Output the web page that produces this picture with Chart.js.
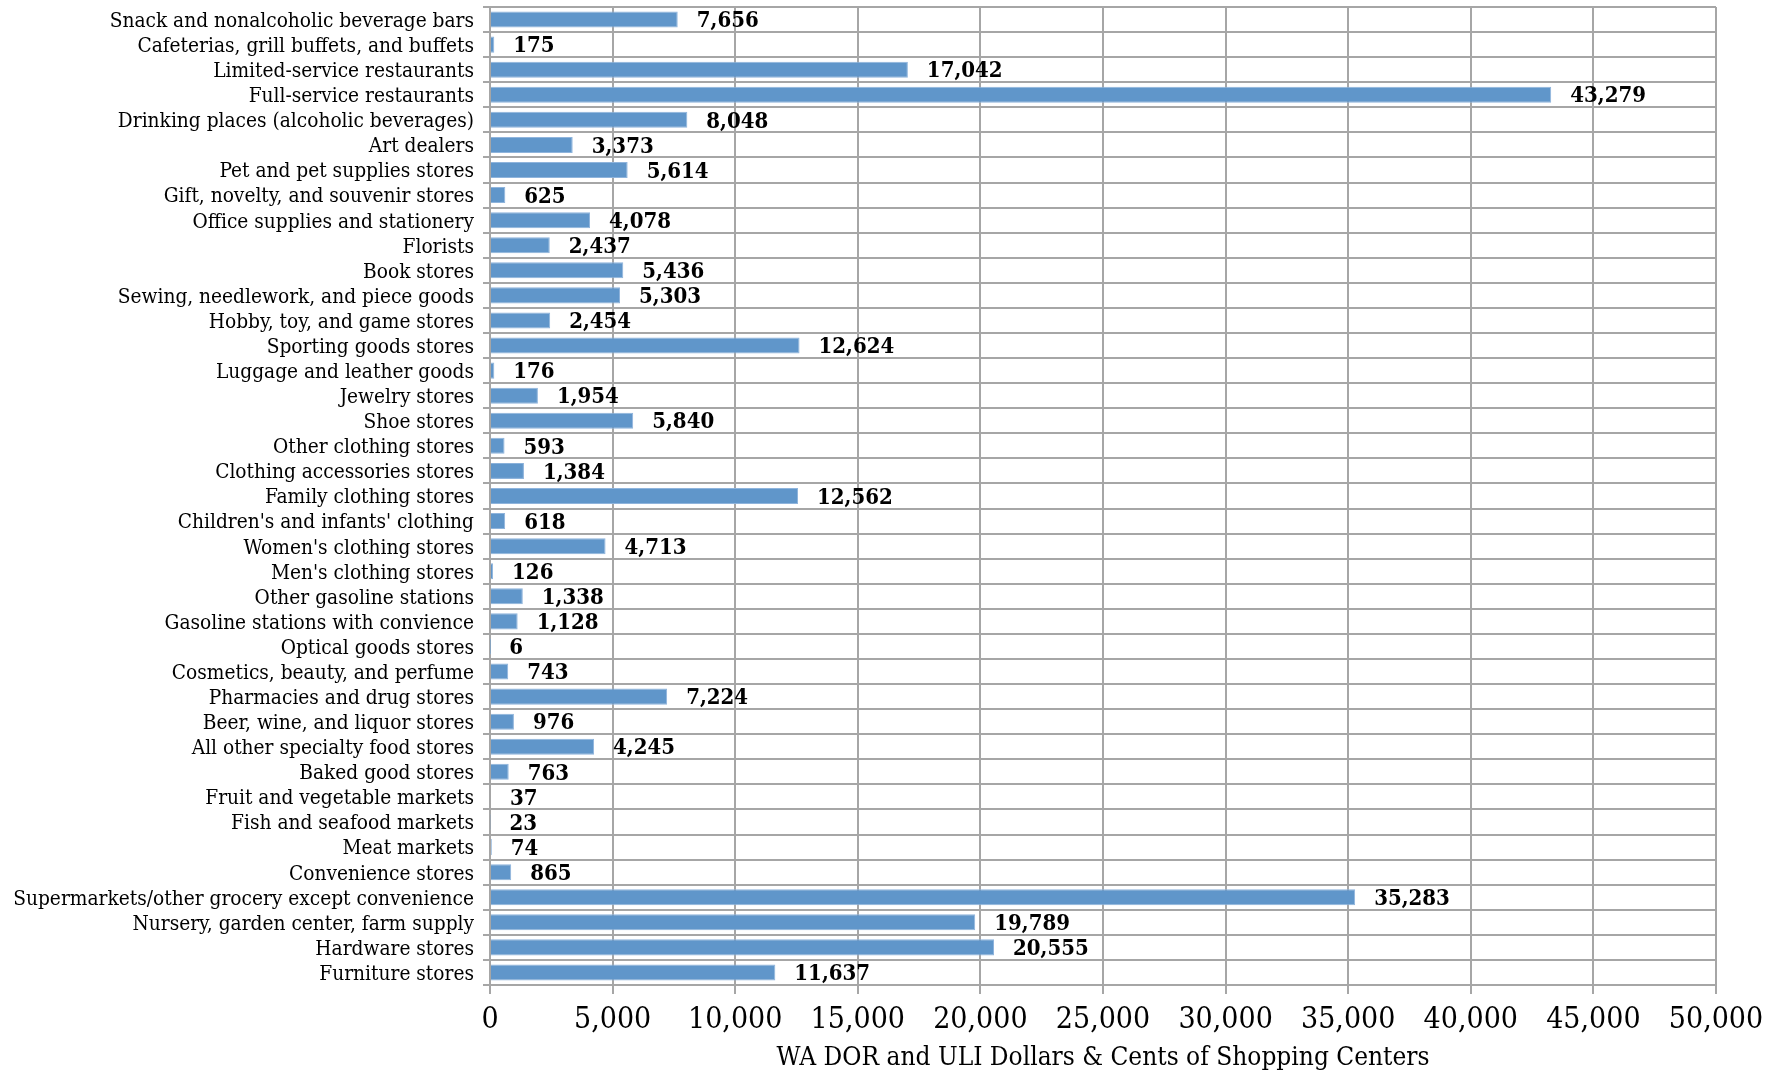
<!DOCTYPE html>
<html>
<head>
<meta charset="utf-8">
<script src="https://cdn.jsdelivr.net/npm/chart.js@4.4.1/dist/chart.umd.min.js"></script>
<style>
  html, body { margin: 0; padding: 0; background: #fff; }
  #wrap { width: 1775px; height: 1071px; }
</style>
</head>
<body>
<div id="wrap"><canvas id="chart" width="1775" height="1071"></canvas></div>
<script>
// ===== data =====
const categories = [
    'Snack and nonalcoholic beverage bars',
    'Cafeterias, grill buffets, and buffets',
    'Limited-service restaurants',
    'Full-service restaurants',
    'Drinking places (alcoholic beverages)',
    'Art dealers',
    'Pet and pet supplies stores',
    'Gift, novelty, and souvenir stores',
    'Office supplies and stationery',
    'Florists',
    'Book stores',
    'Sewing, needlework, and piece goods',
    'Hobby, toy, and game stores',
    'Sporting goods stores',
    'Luggage and leather goods',
    'Jewelry stores',
    'Shoe stores',
    'Other clothing stores',
    'Clothing accessories stores',
    'Family clothing stores',
    "Children's and infants' clothing",
    "Women's clothing stores",
    "Men's clothing stores",
    'Other gasoline stations',
    'Gasoline stations with convience',
    'Optical goods stores',
    'Cosmetics, beauty, and perfume',
    'Pharmacies and drug stores',
    'Beer, wine, and liquor stores',
    'All other specialty food stores',
    'Baked good stores',
    'Fruit and vegetable markets',
    'Fish and seafood markets',
    'Meat markets',
    'Convenience stores',
    'Supermarkets/other grocery except convenience',
    'Nursery, garden center, farm supply',
    'Hardware stores',
    'Furniture stores'
];

const salesValues = [
    7656, 175, 17042, 43279, 8048, 3373, 5614, 625, 4078, 2437,
    5436, 5303, 2454, 12624, 176, 1954, 5840, 593, 1384, 12562,
    618, 4713, 126, 1338, 1128, 6, 743, 7224, 976, 4245,
    763, 37, 23, 74, 865, 35283, 19789, 20555, 11637
];

const xAxisMin = 0;
const xAxisMax = 50000;
const xAxisStep = 5000;
const xAxisTitle = 'WA DOR and ULI Dollars & Cents of Shopping Centers';

const SERIF = '"DejaVu Serif Condensed", "DejaVu Serif", serif';
const fmt = v => v.toLocaleString('en-US');

// draw value labels to the right of each bar
const valueLabels = {
    id: 'valueLabels',
    afterDatasetsDraw(chart) {
        const ctx = chart.ctx;
        const meta = chart.getDatasetMeta(0);
        ctx.save();
        ctx.font = 'bold 22px ' + SERIF;
        ctx.fillStyle = '#000';
        ctx.textAlign = 'left';
        ctx.textBaseline = 'middle';
        meta.data.forEach((bar, i) => {
            ctx.fillText(fmt(salesValues[i]), bar.x + 19, bar.y + 2);
        });
        ctx.restore();
    }
};

new Chart(document.getElementById('chart'), {
    type: 'bar',
    data: {
        labels: categories,
        datasets: [{
            data: salesValues,
            backgroundColor: '#6096ca',
            borderColor: '#8fb4dc',
            borderWidth: 1,
            barPercentage: 0.64,
            categoryPercentage: 1.0
        }]
    },
    options: {
        indexAxis: 'y',
        responsive: false,
        animation: false,
        layout: { padding: { top: 7, right: 59, bottom: 0, left: 0 } },
        plugins: {
            legend: { display: false },
            tooltip: { enabled: false }
        },
        scales: {
            x: {
                min: xAxisMin,
                max: xAxisMax,
                ticks: {
                    stepSize: xAxisStep,
                    color: '#000',
                    padding: 8,
                    font: { family: SERIF, size: 30 },
                    callback: v => fmt(v)
                },
                grid: { color: '#a6a6a6', lineWidth: 2, tickLength: 9 },
                border: { color: '#a6a6a6', width: 2 },
                title: {
                    display: true,
                    text: xAxisTitle,
                    color: '#000',
                    font: { family: SERIF, size: 26 },
                    padding: { top: 4, bottom: -3 }
                },
                afterFit(scale) { scale.height = 86; }
            },
            y: {
                ticks: {
                    color: '#000',
                    padding: 9,
                    labelOffset: 2,
                    autoSkip: false,
                    font: { family: SERIF, size: 20.7 }
                },
                grid: { color: '#a6a6a6', lineWidth: 2, tickLength: 7, offset: true },
                border: { color: '#a6a6a6', width: 2 },
                afterFit(scale) {
                    // fixed label column; no extra room above/below for label overflow
                    scale.width = 490;
                    scale.paddingTop = 0;
                    scale.paddingBottom = 0;
                }
            }
        }
    },
    plugins: [valueLabels]
});
</script>
</body>
</html>
